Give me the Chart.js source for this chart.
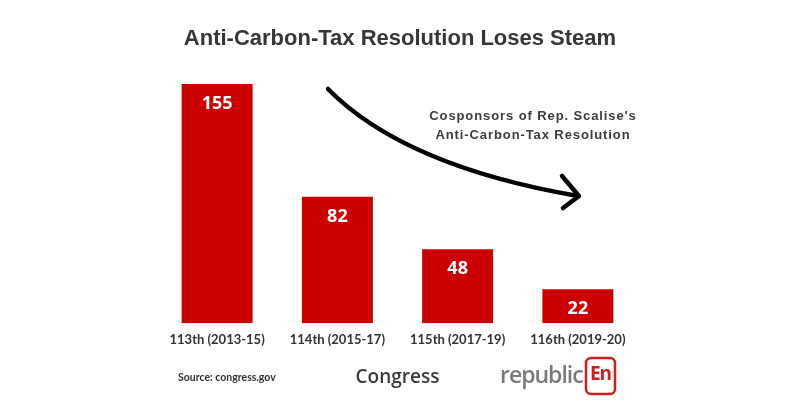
<!DOCTYPE html>
<html>
<head>
<meta charset="utf-8">
<script src="https://cdn.jsdelivr.net/npm/chart.js@4.4.1/dist/chart.umd.min.js"></script>
<style>
  html, body { margin: 0; padding: 0; background: #ffffff; }
  #wrap { width: 800px; height: 400px; position: relative; }
</style>
</head>
<body>
<div id="wrap"><canvas id="chart"></canvas></div>
<script>
// data
const congresses = ['113th (2013-15)', '114th (2015-17)', '115th (2017-19)', '116th (2019-20)'];
const cosponsors = [155, 82, 48, 22];

const titleText = 'Anti-Carbon-Tax Resolution Loses Steam';
const noteLines = ["Cosponsors of Rep. Scalise's", 'Anti-Carbon-Tax Resolution'];
const sourceText = 'Source: congress.gov';

const barRed = '#cc0000';

// value labels inside the top of each bar
const valueLabels = {
    id: 'valueLabels',
    afterDatasetsDraw(chart) {
        const ctx = chart.ctx;
        const meta = chart.getDatasetMeta(0);
        ctx.save();
        ctx.fillStyle = '#ffffff';
        ctx.font = 'bold 18px "Open Sans"';
        ctx.textAlign = 'center';
        ctx.textBaseline = 'middle';
        meta.data.forEach((bar, i) => {
            ctx.fillText(String(cosponsors[i]), bar.x, bar.y + 20);
        });
        ctx.restore();
    }
};

// title, arrow, note, source and logo
const decorations = {
    id: 'decorations',
    afterDraw(chart) {
        const ctx = chart.ctx;
        ctx.save();

        // title
        ctx.fillStyle = '#363636';
        ctx.font = 'bold 22px "Liberation Sans"';
        ctx.textAlign = 'center';
        ctx.textBaseline = 'middle';
        ctx.fillText(titleText, 400, 39);

        // curved arrow
        ctx.strokeStyle = '#000000';
        ctx.lineWidth = 4.5;
        ctx.lineCap = 'round';
        ctx.lineJoin = 'round';
        ctx.beginPath();
        ctx.moveTo(328, 89);
        ctx.quadraticCurveTo(404, 166, 578, 196);
        ctx.stroke();
        ctx.beginPath();
        ctx.moveTo(562, 176);
        ctx.lineTo(579, 196);
        ctx.lineTo(563, 208);
        ctx.stroke();

        // note
        ctx.fillStyle = '#3c3c3c';
        ctx.font = 'bold 13px "Liberation Sans"';
        ctx.letterSpacing = '0.9px';
        ctx.fillText(noteLines[0], 533, 116);
        ctx.fillText(noteLines[1], 533, 135);
        ctx.letterSpacing = '0px';

        // source
        ctx.textAlign = 'left';
        ctx.fillStyle = '#333333';
        ctx.font = 'bold 10.5px "Lato"';
        ctx.fillText(sourceText, 178, 378);

        // logo
        ctx.fillStyle = '#7a7a7a';
        ctx.font = '600 23px "Open Sans"';
        ctx.letterSpacing = '-1px';
        ctx.fillText('republic', 500, 376);
        ctx.letterSpacing = '0px';
        ctx.strokeStyle = '#d31c1c';
        ctx.lineWidth = 2.5;
        ctx.beginPath();
        ctx.roundRect(586, 358, 29, 36, 5);
        ctx.stroke();
        ctx.fillStyle = '#d31c1c';
        ctx.font = 'bold 19px "Open Sans"';
        ctx.textAlign = 'center';
        ctx.letterSpacing = '-1px';
        ctx.fillText('En', 600.5, 375);

        ctx.restore();
    }
};

new Chart(document.getElementById('chart'), {
    type: 'bar',
    data: {
        labels: congresses,
        datasets: [{
            data: cosponsors,
            backgroundColor: barRed,
            borderWidth: 0,
            barPercentage: 0.59,
            categoryPercentage: 1
        }]
    },
    options: {
        responsive: true,
        maintainAspectRatio: false,
        animation: false,
        layout: { padding: { left: 157, right: 162, top: 84, bottom: 11 } },
        plugins: {
            legend: { display: false },
            tooltip: { enabled: false }
        },
        scales: {
            x: {
                grid: { display: false, drawTicks: false },
                border: { display: false },
                ticks: {
                    color: '#333333',
                    font: { family: 'Lato', size: 13, weight: 'bold', lineHeight: 1.3 },
                    padding: 8,
                    maxRotation: 0
                },
                title: {
                    display: true,
                    text: 'Congress',
                    color: '#3a3a3a',
                    font: { family: '"Open Sans"', size: 19, weight: '600', lineHeight: 1.2 },
                    padding: { top: 10, bottom: 0 }
                }
            },
            y: {
                display: false,
                min: 0,
                max: 155
            }
        }
    },
    plugins: [valueLabels, decorations]
});
</script>
</body>
</html>
